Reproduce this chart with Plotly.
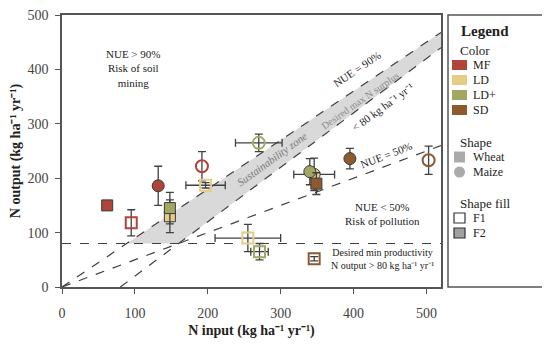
import plotly.graph_objects as go

# ---------------- data ----------------
groups   = ["MF", "MF", "MF", "MF",
            "LD", "LD", "LD", "LD",
            "LD+", "LD+", "LD+", "LD+",
            "SD", "SD", "SD", "SD"]
crops    = ["Wheat", "Wheat", "Maize", "Maize",
            "Wheat", "Wheat", "Wheat", "Maize",
            "Wheat", "Maize", "Wheat", "Maize",
            "Wheat", "Maize", "Maize", "Wheat"]
fills    = ["F2", "F1", "F2", "F1",
            "F2", "F1", "F1", "F2",
            "F2", "F1", "F1", "F2",
            "F2", "F2", "F1", "F1"]
n_input  = [62, 95, 132, 192,
            148, 197, 255, 346,
            148, 270, 271, 340,
            349, 395, 503, 346]
n_output = [150, 118, 186, 222,
            130, 187, 90, 207,
            145, 265, 65, 212,
            190, 236, 233, 52]
x_err    = [0, 0, 0, 0,
            0, 27, 45, 28,
            0, 32, 12, 0,
            0, 0, 0, 0]
y_err    = [0, 24, 36, 27,
            30, 5, 25, 30,
            29, 16, 15, 24,
            20, 19, 26, 4]
draw_order = [0, 1, 2, 3, 4, 5, 6, 7, 8, 9, 10, 11, 12, 13, 14, 15]

group_colors = {"MF": "#b0433a", "LD": "#e6cc86", "LD+": "#a3a762", "SD": "#8d5a2e"}
crop_symbols = {"Wheat": "square", "Maize": "circle"}

nue_high = 0.9        # NUE = 90 %
nue_low = 0.5         # NUE = 50 %
max_surplus = 80      # desired max N surplus
min_output = 80       # desired min productivity
x_max = 520
y_max = 500

legend_colors = ["MF", "LD", "LD+", "SD"]
legend_shapes = ["Wheat", "Maize"]
legend_fills = ["F1", "F2"]

FONT = "Liberation Serif"
DARK = "#404040"
UNIT = "kg ha⁻¹ yr⁻¹"

fig = go.Figure()

# sustainability zone (between NUE 90% and surplus 80 line, above min productivity)
x_a = min_output / nue_high
x_b = min_output + max_surplus
fig.add_trace(go.Scatter(
    x=[x_a, x_b, x_max, x_max, x_a],
    y=[min_output, min_output, x_max - max_surplus, nue_high * x_max, min_output],
    fill="toself", fillcolor="#d9d9d9", line=dict(width=0), mode="lines",
    hoverinfo="skip", showlegend=False))

dash_line = dict(color=DARK, width=1.2, dash="dash")
fig.add_trace(go.Scatter(x=[0, x_max], y=[0, nue_high * x_max], mode="lines",
                         line=dash_line, showlegend=False, hoverinfo="skip"))
fig.add_trace(go.Scatter(x=[max_surplus, x_max], y=[0, x_max - max_surplus], mode="lines",
                         line=dash_line, showlegend=False, hoverinfo="skip"))
fig.add_trace(go.Scatter(x=[0, x_max], y=[0, nue_low * x_max], mode="lines",
                         line=dash_line, showlegend=False, hoverinfo="skip"))
fig.add_trace(go.Scatter(x=[0, x_max], y=[min_output, min_output], mode="lines",
                         line=dash_line, showlegend=False, hoverinfo="skip"))

# data points
for i in draw_order:
    col = group_colors[groups[i]]
    sym = crop_symbols[crops[i]]
    if fills[i] == "F1":
        marker = dict(symbol=sym, size=11 if sym == "square" else 12,
                      color="rgba(255,255,255,0)", line=dict(color=col, width=2))
    else:
        marker = dict(symbol=sym, size=11 if sym == "square" else 12,
                      color=col, line=dict(color="#3a3a3a", width=1))
    fig.add_trace(go.Scatter(
        x=[n_input[i]], y=[n_output[i]], mode="markers", marker=marker,
        error_x=dict(type="data", array=[x_err[i]], visible=x_err[i] > 0,
                     color="#404040", thickness=1.3, width=4),
        error_y=dict(type="data", array=[y_err[i]], visible=y_err[i] > 0,
                     color="#404040", thickness=1.3, width=4),
        showlegend=False, name=f"{groups[i]} {crops[i]} {fills[i]}"))

# annotations
ann = []
def text(x, y, t, size=11, angle=0, color="#222", italic=False, xanchor="center"):
    f = dict(family=FONT, size=size, color=color)
    if italic:
        f["style"] = "italic"
    ann.append(dict(x=x, y=y, xref="x", yref="y", text=t, showarrow=False,
                    textangle=angle, xanchor=xanchor, font=f))

text(97, 401, "NUE &gt; 90%<br>Risk of soil<br>mining", size=11)
text(405, 400, "NUE = 90%", size=11, angle=-34)
text(409, 343, "Desired max N surplus", size=10, angle=-35, color="#8a8a8a")
text(440, 331, "&lt; 80 " + UNIT, size=11, angle=-36)
text(288, 236, "Sustainability zone", size=11, angle=-36, color="#777", italic=True)
text(445, 243, "NUE = 50%", size=11, angle=-21)
text(440, 135, "NUE &lt; 50%<br>Risk of pollution", size=11)
text(366, 51, "Desired min productivity<br>N output &gt; 80 " + UNIT,
     size=10, xanchor="left")

# ---------- manual legend panel (paper coords) ----------
# page body has an 8px margin: figure is drawn 8px right/down of the window origin
OFF = 8
W, H = 550 - OFF, 347 - OFF
L, R, T, B = 62, 441, 15, 287      # plot area in window pixels
def px(x):
    return (x - L) / (R - L)
def py(y):
    return (B - y) / (B - T)

shapes = []
shapes.append(dict(type="rect", xref="paper", yref="paper",
                   x0=px(448), x1=px(545), y0=py(287), y1=py(15),
                   line=dict(color="#555", width=1.5), fillcolor="white"))

def ltext(x, y, t, size=11, bold=False):
    f = dict(family=FONT, size=size, color="#222")
    if bold:
        f["weight"] = "bold"
    ann.append(dict(x=px(x), y=py(y), xref="paper", yref="paper", text=t,
                    showarrow=False, xanchor="left", yanchor="middle", font=f))

ltext(459, 31, "Legend", size=15, bold=True)
ltext(458, 50, "Color", size=13)
for k, g in enumerate(legend_colors):
    yc = 65 + 15 * k
    shapes.append(dict(type="rect", xref="paper", yref="paper",
                       x0=px(452), x1=px(467), y0=py(yc + 5), y1=py(yc - 5),
                       line=dict(width=0), fillcolor=group_colors[g]))
    ltext(471, yc, g, size=12)
ltext(458, 142, "Shape", size=13)
for k, s in enumerate(legend_shapes):
    yc = 157 + 15 * k
    shapes.append(dict(type="rect" if s == "Wheat" else "circle",
                       xref="paper", yref="paper",
                       x0=px(454), x1=px(465), y0=py(yc + 5.5), y1=py(yc - 5.5),
                       line=dict(width=0), fillcolor="#aaaaaa"))
    ltext(471, yc, s, size=12)
ltext(458, 203, "Shape fill", size=13)
for k, f in enumerate(legend_fills):
    yc = 218 + 15 * k
    shapes.append(dict(type="rect", xref="paper", yref="paper",
                       x0=px(454), x1=px(465), y0=py(yc + 5), y1=py(yc - 5),
                       line=dict(width=1.2, color="#333"),
                       fillcolor="white" if f == "F1" else "#a0a0a0"))
    ltext(471, yc, f, size=12)

axis_common = dict(showline=True, linecolor="#555", linewidth=1.5, mirror=True,
                   ticks="outside", ticklen=5, tickcolor="#555", tickwidth=1.2,
                   showgrid=False, zeroline=False, ticklabeloverflow="allow",
                   tickfont=dict(family=FONT, size=14, color="#444"))

fig.update_layout(
    width=W, height=H,
    margin=dict(l=L - OFF, r=550 - R, t=T - OFF, b=347 - B, autoexpand=False),
    plot_bgcolor="white", paper_bgcolor="white",
    xaxis=dict(range=[0, x_max], tickvals=[0, 100, 200, 300, 400, 500],
               ticklabelstandoff=7,
               title=dict(text="N input (" + UNIT + ")", standoff=6,
                          font=dict(family=FONT, size=14, color="#222", weight="bold")),
               **axis_common),
    yaxis=dict(range=[0, y_max], tickvals=[0, 100, 200, 300, 400, 500],
               ticklabelstandoff=4,
               title=dict(text="N output (" + UNIT + ")", standoff=6,
                          font=dict(family=FONT, size=14, color="#222", weight="bold")),
               **axis_common),
    annotations=ann, shapes=shapes, showlegend=False,
)

fig.write_html("out.html")
